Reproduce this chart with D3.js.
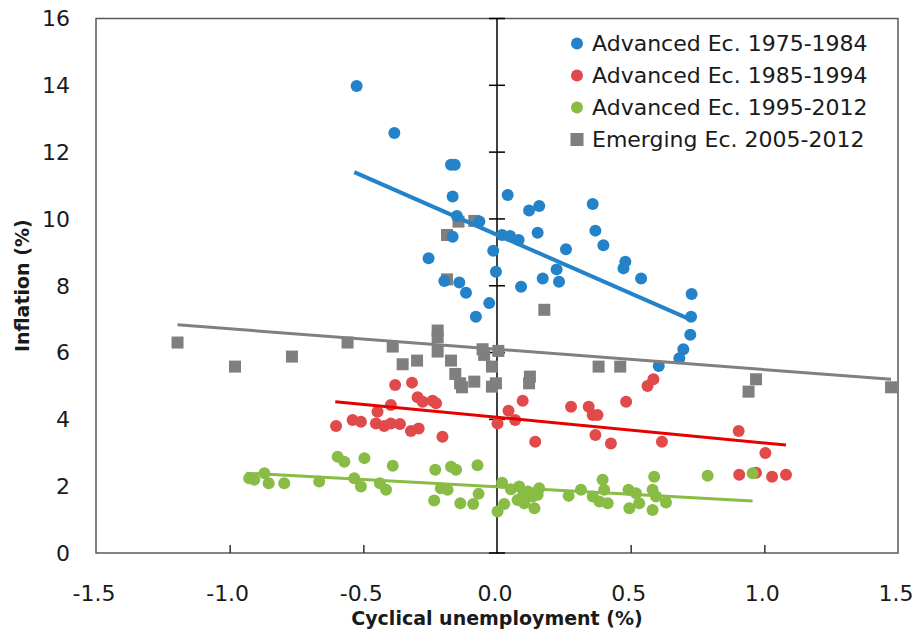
<!DOCTYPE html>
<html>
<head>
<meta charset="utf-8">
<script src="https://cdn.jsdelivr.net/npm/d3@7"></script>
<style>
  body { margin: 0; background: #fff; }
  svg { display: block; font-family: "DejaVu Sans", sans-serif; }
</style>
</head>
<body>
<div id="chart"></div>
<script>
// points: [cyclical unemployment, inflation]
const adv7584 = [
  [-0.525, 13.98], [-0.384, 12.57], [-0.172, 11.62], [-0.158, 11.62], [-0.166, 10.67],
  [-0.15, 10.09], [-0.066, 9.92], [-0.166, 9.47], [-0.014, 9.05], [0.04, 10.72],
  [0.12, 10.25], [0.158, 10.39], [0.152, 9.59], [0.019, 9.52], [0.049, 9.49],
  [0.081, 9.37], [-0.256, 8.82], [-0.004, 8.42], [-0.197, 8.14], [-0.141, 8.1],
  [-0.116, 7.79], [-0.029, 7.48], [-0.079, 7.07], [0.09, 7.97], [0.171, 8.22],
  [0.223, 8.49], [0.232, 8.12], [0.258, 9.09], [0.358, 10.45], [0.368, 9.65],
  [0.398, 9.21], [0.48, 8.72], [0.473, 8.52], [0.539, 8.22], [0.728, 7.75],
  [0.726, 7.07], [0.723, 6.53], [0.697, 6.1], [0.682, 5.83], [0.605, 5.6]
]
const adv8594 = [
  [-0.381, 5.03], [-0.318, 5.1], [-0.297, 4.66], [-0.278, 4.53], [-0.241, 4.56],
  [-0.228, 4.48], [-0.397, 4.43], [-0.447, 4.23], [-0.602, 3.8], [-0.54, 3.98],
  [-0.509, 3.93], [-0.453, 3.88], [-0.422, 3.8], [-0.397, 3.88], [-0.363, 3.86],
  [-0.322, 3.65], [-0.293, 3.73], [-0.204, 3.48], [0.002, 3.88], [0.043, 4.26],
  [0.068, 3.98], [0.096, 4.56], [0.143, 3.33], [0.277, 4.38], [0.343, 4.38],
  [0.358, 4.13], [0.376, 4.13], [0.368, 3.53], [0.426, 3.28], [0.483, 4.53],
  [0.563, 5.0], [0.585, 5.2], [0.617, 3.33], [0.904, 3.65], [1.004, 2.99],
  [0.906, 2.34], [0.969, 2.4], [1.029, 2.28], [1.081, 2.34]
]
const adv9512 = [
  [-0.927, 2.24], [-0.908, 2.19], [-0.87, 2.39], [-0.854, 2.09], [-0.796, 2.09],
  [-0.665, 2.14], [-0.596, 2.88], [-0.571, 2.73], [-0.496, 2.84], [-0.534, 2.24],
  [-0.509, 1.99], [-0.438, 2.09], [-0.415, 1.89], [-0.39, 2.61], [-0.231, 2.49],
  [-0.172, 2.58], [-0.153, 2.49], [-0.073, 2.63], [-0.21, 1.94], [-0.185, 1.89],
  [-0.235, 1.57], [-0.137, 1.49], [-0.089, 1.47], [-0.069, 1.77], [0.002, 1.24],
  [0.027, 1.47], [0.019, 2.1], [0.052, 1.91], [0.083, 1.99], [0.098, 1.74],
  [0.115, 1.84], [0.133, 1.69], [0.152, 1.74], [0.102, 1.49], [0.14, 1.34],
  [0.077, 1.59], [0.158, 1.94], [0.268, 1.71], [0.314, 1.89], [0.358, 1.69],
  [0.395, 2.19], [0.401, 1.89], [0.383, 1.54], [0.414, 1.49], [0.492, 1.89],
  [0.52, 1.79], [0.495, 1.34], [0.532, 1.49], [0.588, 2.28], [0.582, 1.89],
  [0.595, 1.69], [0.582, 1.29], [0.632, 1.51], [0.788, 2.31], [0.956, 2.39]
]
const emg0512 = [
  [-1.195, 6.3], [-0.98, 5.58], [-0.767, 5.88], [-0.559, 6.3], [-0.39, 6.18],
  [-0.353, 5.65], [-0.299, 5.76], [-0.222, 6.66], [-0.222, 6.46], [-0.222, 6.03],
  [-0.172, 5.76], [-0.156, 5.36], [-0.138, 5.08], [-0.131, 4.96], [-0.085, 5.13],
  [-0.054, 6.1], [-0.048, 5.93], [-0.019, 5.58], [-0.019, 4.98], [-0.004, 5.08],
  [0.005, 6.05], [0.123, 5.28], [0.12, 5.08], [0.177, 7.28], [-0.187, 9.52],
  [-0.187, 8.19], [-0.144, 9.92], [-0.085, 9.94], [0.38, 5.58], [0.461, 5.58],
  [0.969, 5.2], [0.941, 4.83], [1.474, 4.96]
]
// trend line ends
const trendBlue = [[-0.534, 11.4], [0.72, 7.0]]
const trendRed = [[-0.605, 4.53], [1.081, 3.23]]
const trendGreen = [[-0.938, 2.39], [0.956, 1.56]]
const trendGrey = [[-1.195, 6.83], [1.474, 5.2]]

const legendLabels = ['Advanced Ec. 1975-1984', 'Advanced Ec. 1985-1994',
  'Advanced Ec. 1995-2012', 'Emerging Ec. 2005-2012']
const xTicks = [-1.5, -1.0, -0.5, 0.0, 0.5, 1.0, 1.5]
const yTicks = [0, 2, 4, 6, 8, 10, 12, 14, 16]

const W = 917, H = 632
const svg = d3.select('#chart').append('svg').attr('width', W).attr('height', H)

const x = d3.scaleLinear().domain([-1.5, 1.5]).range([96, 898])
const y = d3.scaleLinear().domain([0, 16]).range([553, 18.5])

// frame
svg.append('rect')
  .attr('x', x(-1.5)).attr('y', y(16))
  .attr('width', x(1.5) - x(-1.5)).attr('height', y(0) - y(16))
  .attr('fill', 'none').attr('stroke', '#595959').attr('stroke-width', 1.5)

// x ticks (inside, up from the bottom)
svg.append('g')
  .attr('transform', `translate(0,${y(0)})`)
  .call(d3.axisTop(x).tickValues([-1.0, -0.5, 0.5, 1.0]).tickSize(8).tickFormat(''))
  .call(g => g.select('.domain').remove())
  .selectAll('line').attr('stroke', '#333').attr('stroke-width', 1.5)

// vertical axis at x = 0 with crossing ticks
const yAx = svg.append('g').attr('transform', `translate(${x(0)},0)`)
yAx.append('line').attr('y1', y(16)).attr('y2', y(0))
  .attr('stroke', '#000').attr('stroke-width', 1.5)
yAx.selectAll('.tk').data(yTicks).join('line')
  .attr('x1', -8).attr('x2', 8)
  .attr('y1', d => y(d)).attr('y2', d => y(d))
  .attr('stroke', '#000').attr('stroke-width', 1.5)

// tick labels (plain hyphen for negatives, as in the original)
const fmt = d => d3.format('.1f')(d).replace('\u2212', '-')
svg.append('g').selectAll('text').data(yTicks).join('text')
  .attr('x', 70).attr('y', d => y(d)).attr('dy', '0.36em')
  .attr('text-anchor', 'end').attr('font-size', 22).attr('fill', '#1a1a1a')
  .text(d => d)
svg.append('g').selectAll('text').data(xTicks).join('text')
  .attr('x', d => x(d) - 2).attr('y', 601)
  .attr('text-anchor', 'middle').attr('font-size', 22).attr('fill', '#1a1a1a')
  .text(fmt)

// axis titles
svg.append('text')
  .attr('x', x(0)).attr('y', 625)
  .attr('text-anchor', 'middle').attr('font-size', 19).attr('font-weight', 'bold')
  .attr('fill', '#1a1a1a')
  .text('Cyclical unemployment (%)')
svg.append('text')
  .attr('transform', `translate(29,${(y(0) + y(16)) / 2}) rotate(-90)`)
  .attr('text-anchor', 'middle').attr('font-size', 19).attr('font-weight', 'bold')
  .attr('fill', '#1a1a1a')
  .text('Inflation (%)')

const blue = '#2382c8', red = '#e04a4a', green = '#88bc45', grey = '#7f7f7f'

const line = d3.line().x(d => x(d[0])).y(d => y(d[1]))

function dots (data, color) {
  svg.append('g').selectAll('circle').data(data).join('circle')
    .attr('cx', d => x(d[0])).attr('cy', d => y(d[1]))
    .attr('r', 6).attr('fill', color)
}

// draw order: emerging squares at the back
svg.append('g').selectAll('rect').data(emg0512).join('rect')
  .attr('x', d => x(d[0]) - 6).attr('y', d => y(d[1]) - 6)
  .attr('width', 12).attr('height', 12).attr('fill', grey)
dots(adv7584, blue)
dots(adv8594, red)
dots(adv9512, green)

svg.append('path').datum(trendBlue).attr('d', line)
  .attr('stroke', blue).attr('stroke-width', 4).attr('fill', 'none')
svg.append('path').datum(trendRed).attr('d', line)
  .attr('stroke', '#e60000').attr('stroke-width', 3).attr('fill', 'none')
svg.append('path').datum(trendGreen).attr('d', line)
  .attr('stroke', green).attr('stroke-width', 3).attr('fill', 'none')
svg.append('path').datum(trendGrey).attr('d', line)
  .attr('stroke', '#808080').attr('stroke-width', 3).attr('fill', 'none')

// legend
const colors = [blue, red, green, grey]
const lg = svg.append('g').selectAll('g').data(legendLabels).join('g')
  .attr('transform', (d, i) => `translate(577,${43.5 + i * 32})`)
lg.filter((d, i) => i < 3).append('circle').attr('r', 6)
  .attr('fill', (d, i) => colors[i])
lg.filter((d, i) => i === 3).append('rect')
  .attr('x', -6.5).attr('y', -6.5).attr('width', 13).attr('height', 13).attr('fill', grey)
lg.append('text').attr('x', 15).attr('dy', '0.36em')
  .attr('font-size', 22).attr('fill', '#1a1a1a')
  .text(d => d)
</script>
</body>
</html>
